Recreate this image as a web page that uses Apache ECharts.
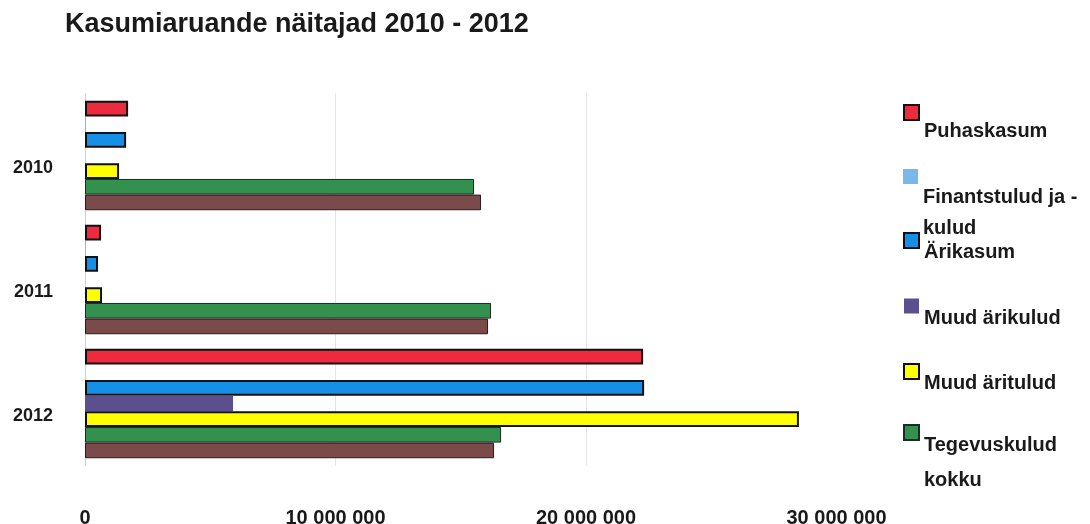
<!DOCTYPE html>
<html>
<head>
<meta charset="utf-8">
<script src="https://cdn.jsdelivr.net/npm/echarts@6/dist/echarts.min.js"></script>
<style>html,body{margin:0;padding:0;background:#fff}#c{width:1090px;height:524px}</style>
</head>
<body>
<div id="c"></div>
<script>
const categories = ['2010', '2011', '2012'];
const puhaskasum = [1720000, 640000, 22280000];
const finantstulud = [40000, 30000, 0];
const arikasum = [1640000, 520000, 22320000];
const muudArikulud = [0, 0, 5910000];
const muudAritulud = [1360000, 680000, 28500000];
const tegevuskulud = [15530000, 16210000, 16610000];
const myygitulu = [15810000, 16090000, 16330000];
const xTicks = [0, 10000000, 20000000, 30000000];

const FONT = 'Liberation Sans, Arial, sans-serif';
const TXT = '#1a1a1a';

function fmt(v) {
  return String(v).replace(/\B(?=(\d{3})+(?!\d))/g, ' ');
}

const chart = echarts.init(document.getElementById('c'));
const seriesDefs = [
  { name: 'Puhaskasum', data: puhaskasum, color: '#ee2a3f', bc: '#111', bw: 2 },
  { name: 'Finantstulud ja -kulud', data: finantstulud, color: '#79b8ea', bc: '#79b8ea', bw: 0 },
  { name: 'Ärikasum', data: arikasum, color: '#1590e6', bc: '#111', bw: 2 },
  { name: 'Muud ärikulud', data: muudArikulud, color: '#5b4f8d', bc: '#5b4f8d', bw: 0 },
  { name: 'Muud äritulud', data: muudAritulud, color: '#ffff00', bc: '#111', bw: 2 },
  { name: 'Tegevuskulud kokku', data: tegevuskulud, color: '#33904f', bc: '#1c2a20', bw: 1 },
  { name: 'Müügitulu', data: myygitulu, color: '#7b4a4a', bc: '#2a1a1a', bw: 1 }
];

// square icon at the top of a taller (invisible) icon box so the label sits below the square
function iconPath(h) { return 'path://M0,0h15v15h-15zM0,' + h + 'h0.01'; }

function legendBlock(names, top, h, gap, lineHeight, fmtFn) {
  return {
    orient: 'vertical', left: 903, top: top, padding: 0, itemGap: gap,
    itemWidth: 15, itemHeight: h, icon: iconPath(h), symbolKeepAspect: false,
    data: names,
    formatter: fmtFn || function (n) { return n; },
    textStyle: { fontSize: 20, fontWeight: 'bold', fontFamily: FONT, color: TXT, lineHeight: lineHeight }
  };
}

const option = {
  animation: false,
  backgroundColor: '#fff',
  title: {
    text: 'Kasumiaruande näitajad 2010 - 2012',
    left: 60, top: 6,
    textStyle: { fontSize: 27, fontWeight: 'bold', fontFamily: FONT, color: TXT }
  },
  legend: [
    legendBlock(['Puhaskasum'], 104, 53, 0, 24),
    legendBlock(['Finantstulud ja -kulud'], 169, 87, 0, 31, function () { return 'Finantstulud ja -\nkulud'; }),
    legendBlock(['Ärikasum', 'Muud ärikulud', 'Muud äritulud'], 232, 39, 25.5, 24),
    legendBlock(['Tegevuskulud kokku'], 424, 75, 0, 35, function () { return 'Tegevuskulud\nkokku'; })
  ],
  grid: { left: 85, right: 253.5, top: 93.5, bottom: 58.5, containLabel: false, outerBoundsMode: 'none' },
  xAxis: {
    type: 'value', min: xTicks[0], max: xTicks[xTicks.length - 1], interval: xTicks[1] - xTicks[0],
    axisLine: { show: false }, axisTick: { show: false },
    splitLine: { show: true, showMinLine: false, showMaxLine: false, lineStyle: { color: '#e4e4e4', width: 1 } },
    axisLabel: { margin: 43, fontSize: 20, fontWeight: 'bold', fontFamily: FONT, color: TXT, formatter: fmt }
  },
  yAxis: {
    type: 'category', data: categories, inverse: true,
    axisLine: { show: true, lineStyle: { color: '#d0d0d0', width: 1 } },
    axisTick: { show: false },
    axisLabel: { margin: 32, fontSize: 18, fontWeight: 'bold', fontFamily: FONT, color: TXT, verticalAlign: 'top', lineHeight: 26 }
  },
  series: seriesDefs.map(function (s) {
    return {
      type: 'bar', name: s.name, data: s.data,
      barGap: '0%', barCategoryGap: '11.7%',
      itemStyle: { color: s.color, borderColor: s.bc, borderWidth: s.bw }
    };
  })
};
chart.setOption(option);
</script>
</body>
</html>
